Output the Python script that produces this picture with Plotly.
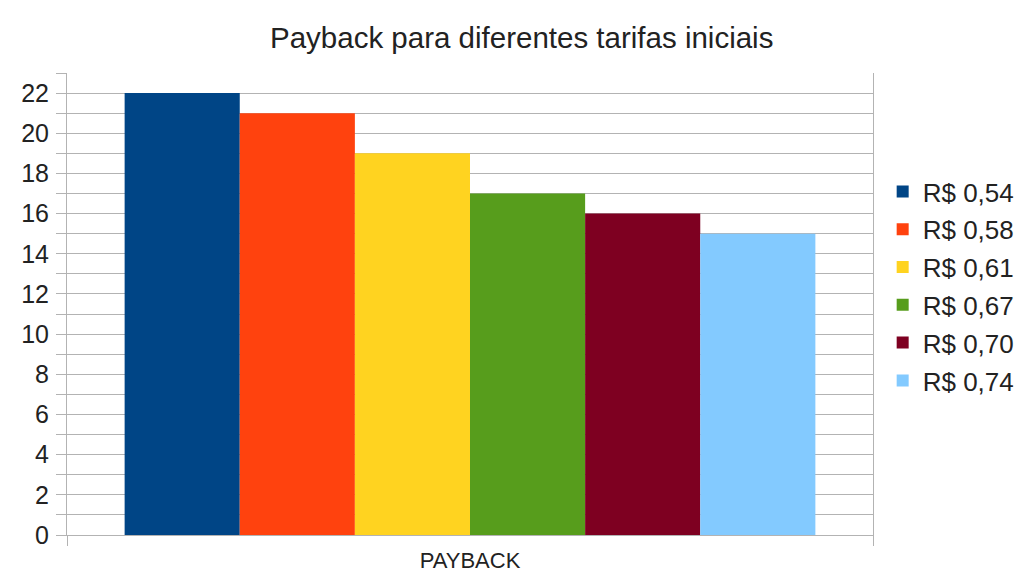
import plotly.graph_objects as go

# Payback time (years) for each starting tariff
categories = ["PAYBACK"]
tariffs = ["R$ 0,54", "R$ 0,58", "R$ 0,61", "R$ 0,67", "R$ 0,70", "R$ 0,74"]
payback_years = [22, 21, 19, 17, 16, 15]
colors = ["#004586", "#ff420e", "#ffd320", "#579d1c", "#7e0021", "#83caff"]

FONT = "Liberation Sans, Arial, sans-serif"
TEXT = "#222222"
GRID = "#b3b3b3"

fig = go.Figure()
for name, val, col in zip(tariffs, payback_years, colors):
    fig.add_trace(go.Bar(
        x=categories, y=[val], name=name,
        marker=dict(color=col, line=dict(width=0)),
        legendgroup=name,
    ))

fig.update_layout(
    width=1021, height=572,
    paper_bgcolor="white", plot_bgcolor="white",
    barmode="group", bargap=0.143, bargroupgap=0,
    margin=dict(l=67, r=148, t=73, b=37, autoexpand=False),
    title=dict(text="Payback para diferentes tarifas iniciais",
               x=0.511, xanchor="center", y=0.935, yanchor="middle",
               font=dict(family=FONT, size=29.5, color=TEXT)),
    font=dict(family=FONT, color=TEXT),
    legend=dict(x=1.012, xanchor="left", y=0.539, yanchor="middle",
                font=dict(family=FONT, size=26, color=TEXT),
                tracegroupgap=1, bgcolor="rgba(0,0,0,0)"),
    showlegend=True,
)

fig.update_xaxes(
    showline=True, linecolor=GRID, linewidth=1,
    ticks="outside", tickson="boundaries", ticklen=10, tickcolor=GRID,
    tickfont=dict(family=FONT, size=22, color=TEXT),
    ticklabelstandoff=6,
    showgrid=False,
)
fig.update_yaxes(
    range=[0, 23], dtick=2, tick0=0,
    showline=True, linecolor=GRID, linewidth=1, mirror=True,
    ticks="outside", ticklen=10, tickcolor=GRID,
    tickfont=dict(family=FONT, size=25, color=TEXT),
    ticklabelstandoff=2,
    showgrid=True, gridcolor=GRID, gridwidth=1,
    zeroline=False,
    minor=dict(dtick=1, showgrid=True, gridcolor=GRID, gridwidth=1,
               ticks="outside", ticklen=10, tickcolor=GRID),
)

fig.write_html("out.html")
